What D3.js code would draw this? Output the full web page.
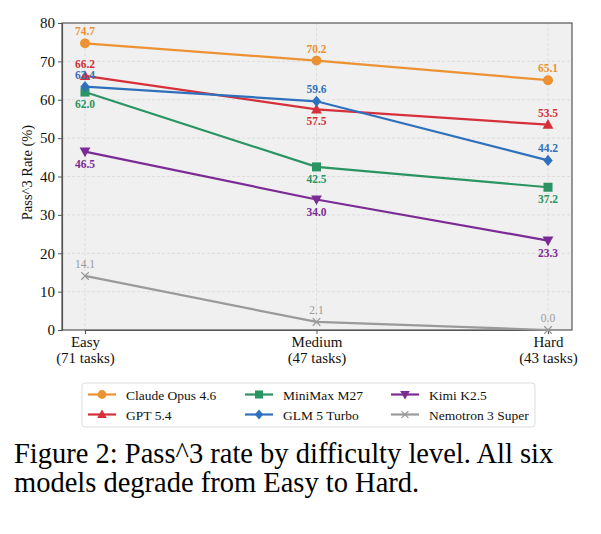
<!DOCTYPE html>
<html>
<head>
<meta charset="utf-8">
<script src="https://cdn.jsdelivr.net/npm/d3@7"></script>
<style>
  body { margin: 0; background: #fff; }
  svg { font-family: "Liberation Serif", "DejaVu Serif", serif; }
</style>
</head>
<body>
<svg id="chart" width="601" height="534"></svg>
<script>
var levels = ["Easy", "Medium", "Hard"];
var levelSub = ["(71 tasks)", "(47 tasks)", "(43 tasks)"];
var yTicks = [0, 10, 20, 30, 40, 50, 60, 70, 80];

var claude = [74.7, 70.2, 65.1];
var gpt = [66.2, 57.5, 53.5];
var minimax = [62.0, 42.5, 37.2];
var glm = [63.4, 59.6, 44.2];
var kimi = [46.5, 34.0, 23.3];
var nemotron = [14.1, 2.1, 0.0];

(function() {
  // label placement: 1 = above, -1 = below
  var series = [
    { name: "Claude Opus 4.6", values: claude, color: "#ec9232", marker: "circle", pos: [1, 1, 1] },
    { name: "GPT 5.4", values: gpt, color: "#d6303a", marker: "triangle", pos: [1, -1, 1] },
    { name: "MiniMax M27", values: minimax, color: "#2a9463", marker: "square", pos: [-1, -1, -1] },
    { name: "GLM 5 Turbo", values: glm, color: "#2f70bc", marker: "diamond", pos: [1, 1, 1] },
    { name: "Kimi K2.5", values: kimi, color: "#7b2c94", marker: "tridown", pos: [-1, -1, -1] },
    { name: "Nemotron 3 Super", values: nemotron, color: "#9a9a9a", marker: "x", pos: [1, 1, 1] }
  ];

  var svg = d3.select("#chart");
  var pl = 62, pr = 572, pt = 23, pb = 330;
  var serif = "Liberation Serif";

  var x = d3.scalePoint().domain(levels).range([85, 548]);
  var y = d3.scaleLinear().domain([0, 80]).range([pb, pt]);

  svg.append("rect").attr("x", pl).attr("y", pt)
    .attr("width", pr - pl).attr("height", pb - pt)
    .attr("fill", "#f0f0f0");

  // grid
  svg.append("g").selectAll("line").data(yTicks.slice(1, -1)).join("line")
    .attr("x1", pl).attr("x2", pr)
    .attr("y1", d => y(d)).attr("y2", d => y(d))
    .attr("stroke", "#d8d8d8").attr("stroke-dasharray", "3,2").attr("stroke-width", 0.8);
  svg.append("g").selectAll("line").data(levels).join("line")
    .attr("x1", d => x(d)).attr("x2", d => x(d))
    .attr("y1", pt).attr("y2", pb)
    .attr("stroke", "#d8d8d8").attr("stroke-dasharray", "3,2").attr("stroke-width", 0.8);

  // frame
  svg.append("rect").attr("x", pl).attr("y", pt)
    .attr("width", pr - pl).attr("height", pb - pt)
    .attr("fill", "none").attr("stroke", "#555").attr("stroke-width", 1.2);

  // axes
  var yAxis = svg.append("g").attr("transform", "translate(" + pl + ",0)")
    .call(d3.axisLeft(y).tickValues(yTicks).tickSize(4).tickPadding(3));
  var xAxis = svg.append("g").attr("transform", "translate(0," + pb + ")")
    .call(d3.axisBottom(x).tickSize(4).tickPadding(3).tickFormat(""));
  [yAxis, xAxis].forEach(function(a) {
    a.attr("font-family", serif);
    a.select(".domain").attr("stroke", "#555").attr("stroke-width", 1.2);
    a.selectAll(".tick line").attr("stroke", "#555");
    a.selectAll("text").attr("font-size", 15).attr("fill", "#111");
  });
  xAxis.selectAll(".tick").each(function(d, i) {
    var g = d3.select(this);
    g.append("text").attr("y", 17).attr("text-anchor", "middle").attr("font-size", 15)
      .attr("fill", "#111").text(levels[i]);
    g.append("text").attr("y", 33).attr("text-anchor", "middle").attr("font-size", 15)
      .attr("fill", "#111").text(levelSub[i]);
  });

  svg.append("text")
    .attr("transform", "translate(32," + ((pt + pb) / 2 - 4) + ") rotate(-90)")
    .attr("text-anchor", "middle").attr("font-size", 14.5).attr("fill", "#111")
    .text("Pass^3 Rate (%)");

  function drawMarker(g, type, color, size) {
    var s = size;
    if (type === "circle") {
      g.append("circle").attr("r", s * 0.55).attr("fill", color);
    } else if (type === "square") {
      g.append("rect").attr("x", -s * 0.5).attr("y", -s * 0.5).attr("width", s).attr("height", s).attr("fill", color);
    } else if (type === "triangle") {
      g.append("path").attr("d", "M0," + (-s * 0.62) + "L" + (s * 0.6) + "," + (s * 0.45) + "L" + (-s * 0.6) + "," + (s * 0.45) + "Z").attr("fill", color);
    } else if (type === "tridown") {
      g.append("path").attr("d", "M0," + (s * 0.62) + "L" + (s * 0.6) + "," + (-s * 0.45) + "L" + (-s * 0.6) + "," + (-s * 0.45) + "Z").attr("fill", color);
    } else if (type === "diamond") {
      g.append("path").attr("d", "M0," + (-s * 0.62) + "L" + (s * 0.52) + ",0L0," + (s * 0.62) + "L" + (-s * 0.52) + ",0Z").attr("fill", color);
    } else if (type === "x") {
      var h = s * 0.42;
      g.append("path").attr("d", "M" + (-h) + "," + (-h) + "L" + h + "," + h + "M" + (-h) + "," + h + "L" + h + "," + (-h))
        .attr("stroke", color).attr("stroke-width", 1.3).attr("fill", "none");
    }
  }

  var line = d3.line().x((d, i) => x(levels[i])).y(d => y(d));

  series.forEach(function(s) {
    svg.append("path").datum(s.values).attr("d", line)
      .attr("fill", "none").attr("stroke", s.color).attr("stroke-width", 2.2);
    s.values.forEach(function(v, i) {
      var g = svg.append("g").attr("transform", "translate(" + x(levels[i]) + "," + y(v) + ")");
      drawMarker(g, s.marker, s.color, 9);
      svg.append("text")
        .attr("x", x(levels[i]))
        .attr("y", y(v) + (s.pos[i] > 0 ? -8 : 16))
        .attr("text-anchor", "middle")
        .attr("font-family", serif)
        .attr("font-size", 11.5)
        .attr("font-weight", s.marker === "x" ? "normal" : "bold")
        .attr("fill", s.color)
        .text(v.toFixed(1));
    });
  });

  // legend
  var legend = svg.append("g").attr("font-family", serif);
  legend.append("rect").attr("x", 82).attr("y", 383).attr("width", 453).attr("height", 44)
    .attr("rx", 3).attr("fill", "#fff").attr("stroke", "#ddd");
  var colX = [88, 245, 391];
  var rowY = [394.5, 414.5];
  series.forEach(function(s, j) {
    var cx = colX[Math.floor(j / 2)], cy = rowY[j % 2];
    legend.append("line").attr("x1", cx).attr("x2", cx + 28).attr("y1", cy).attr("y2", cy)
      .attr("stroke", s.color).attr("stroke-width", 2.2);
    drawMarker(legend.append("g").attr("transform", "translate(" + (cx + 14) + "," + cy + ")"), s.marker, s.color, 8);
    legend.append("text").attr("x", cx + 38).attr("y", cy + 5).attr("font-size", 13.5)
      .attr("fill", "#111").text(s.name);
  });

  // caption
  var cap = svg.append("text").attr("font-family", serif).attr("font-size", 28.5).attr("fill", "#000");
  cap.append("tspan").attr("x", 14).attr("y", 463).text("Figure 2: Pass^3 rate by difficulty level. All six");
  cap.append("tspan").attr("x", 14).attr("y", 492).text("models degrade from Easy to Hard.");
})();
</script>
</body>
</html>
